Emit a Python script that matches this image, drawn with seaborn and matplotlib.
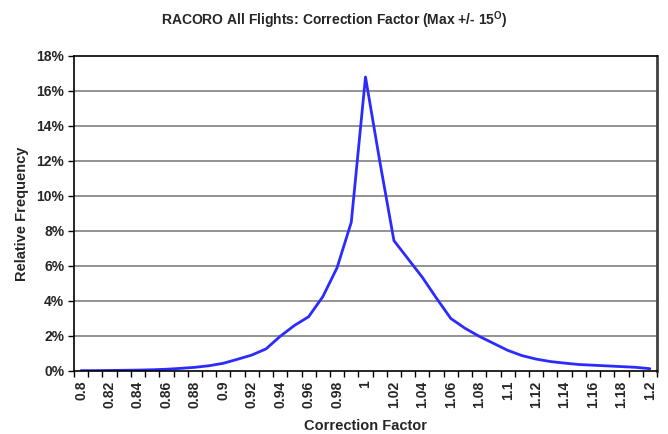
import matplotlib
matplotlib.use("Agg")
import matplotlib.pyplot as plt
import seaborn as sns
import numpy as np
import pandas as pd

# correction factor bins (0.80 .. 1.20 step 0.01)
factors = ["0.8", "0.81", "0.82", "0.83", "0.84", "0.85", "0.86", "0.87", "0.88", "0.89",
           "0.9", "0.91", "0.92", "0.93", "0.94", "0.95", "0.96", "0.97", "0.98", "0.99",
           "1", "1.01", "1.02", "1.03", "1.04", "1.05", "1.06", "1.07", "1.08", "1.09",
           "1.1", "1.11", "1.12", "1.13", "1.14", "1.15", "1.16", "1.17", "1.18", "1.19", "1.2"]
# relative frequency in percent
freq = [0.02, 0.02, 0.03, 0.04, 0.05, 0.07, 0.10, 0.15, 0.21, 0.30,
        0.44, 0.67, 0.91, 1.26, 1.98, 2.60, 3.10, 4.25, 5.90, 8.50,
        16.8, 12.0, 7.45, 6.40, 5.35, 4.15, 3.00, 2.44, 1.98, 1.58,
        1.18, 0.88, 0.68, 0.54, 0.45, 0.37, 0.33, 0.29, 0.25, 0.21, 0.13]
y_ticks = [0, 2, 4, 6, 8, 10, 12, 14, 16, 18]

df = pd.DataFrame({"pos": np.arange(len(factors)), "freq": freq})

sns.set_style("white")
plt.rcParams["font.family"] = ["Liberation Sans", "DejaVu Sans"]
plt.rcParams["mathtext.fontset"] = "custom"
plt.rcParams["mathtext.rm"] = "Liberation Sans:bold"

fig = plt.figure(figsize=(6.68, 4.34), dpi=100)
ax = fig.add_axes([0.1108, 0.1452, 0.8727, 0.7258])

sns.lineplot(data=df, x="pos", y="freq", color="#2b2bff", linewidth=2, ax=ax)

ax.set_xlim(-0.5, len(factors) - 0.5)
ax.set_ylim(0, 18)

# horizontal grid
for v in y_ticks[1:-1]:
    ax.axhline(v, color="#808080", linewidth=1.2, zorder=0)

ax.set_yticks(y_ticks)
ax.set_yticklabels([f"{v}%" for v in y_ticks], fontsize=10, fontweight="bold")
ax.tick_params(axis="y", direction="out", length=4, width=1, color="black", left=True, pad=3)

# category labels every second bin, tick marks at bin edges
ax.set_xticks(np.arange(0, len(factors), 2))
ax.set_xticklabels(factors[::2], rotation=90, fontsize=10, fontweight="bold")
ax.tick_params(axis="x", which="major", length=0, pad=7)
ax.set_xticks(np.arange(-0.5, len(factors), 1), minor=True)
ax.tick_params(axis="x", which="minor", direction="out", length=4, width=1, color="black", bottom=True)

for side in ["left", "bottom", "top"]:
    ax.spines[side].set_color("black")
    ax.spines[side].set_linewidth(1.2)
ax.spines["right"].set_color("#404040")
ax.spines["right"].set_linewidth(2)

ax.set_xlabel("Correction Factor", fontsize=10.5, fontweight="bold", labelpad=8)
ax.set_ylabel("Relative Frequency", fontsize=10.5, fontweight="bold", labelpad=5)

fig.suptitle(r"RACORO All Flights: Correction Factor (Max +/- 15$^{\mathrm{O}}$)",
             fontsize=10, fontweight="bold", y=0.978)

fig.savefig("out.png", dpi=100)
